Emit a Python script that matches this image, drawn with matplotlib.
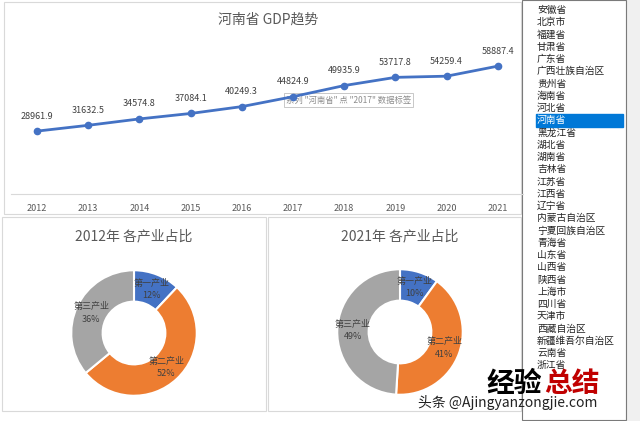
import matplotlib
matplotlib.use('Agg')
import matplotlib.pyplot as plt
import numpy as np
from matplotlib.patches import Rectangle

plt.rcParams['font.family'] = ['Noto Sans CJK SC', 'DejaVu Sans']

W, H = 640, 421

# data
years = ['2012', '2013', '2014', '2015', '2016', '2017', '2018', '2019', '2020', '2021']
gdp = [28961.9, 31632.5, 34574.8, 37084.1, 40249.3, 44824.9, 49935.9, 53717.8, 54259.4, 58887.4]
industries = ['第一产业', '第二产业', '第三产业']
share_2012 = [12, 52, 36]
share_2021 = [10, 41, 49]
# 重庆市 sits under the watermark, left out
provinces = ['安徽省', '北京市', '福建省', '甘肃省', '广东省', '广西壮族自治区', '贵州省', '海南省',
             '河北省', '河南省', '黑龙江省', '湖北省', '湖南省', '吉林省', '江苏省', '江西省', '辽宁省',
             '内蒙古自治区', '宁夏回族自治区', '青海省', '山东省', '山西省', '陕西省', '上海市', '四川省',
             '天津市', '西藏自治区', '新疆维吾尔自治区', '云南省', '浙江省']
selected = '河南省'

colors = ['#4472C4', '#ED7D31', '#A5A5A5']
textc = '#595959'


def rect(x, y, w, h):
    # pixel box (top-left origin) -> figure fraction
    return [x / W, 1 - (y + h) / H, w / W, h / H]


fig = plt.figure(figsize=(6.4, 4.21), dpi=100)

# background layer in pixel coordinates
bg = fig.add_axes([0, 0, 1, 1])
bg.set_xlim(0, W)
bg.set_ylim(H, 0)
bg.axis('off')
for x0, y0, w, h in [(4, 2, 517, 212), (2, 217, 264, 194), (268, 217, 253, 194)]:
    bg.add_patch(Rectangle((x0, y0), w, h, fill=False, ec='#d9d9d9', lw=0.8))
# list box
bg.add_patch(Rectangle((626, 0), 14, H, color='#f0f0f0'))
bg.add_patch(Rectangle((522, 0), 104, H - 1, fill=False, ec='#7a7a7a', lw=0.8))
for i, p in enumerate(provinces):
    y = 10 + i * 12.25
    if p == selected:
        bg.add_patch(Rectangle((536, y - 6), 87, 12.5, color='#0078D7'))
        bg.text(537, y, p, fontsize=7, color='white', va='center')
    else:
        bg.text(537, y, p, fontsize=7, color='#222222', va='center')

# line chart
ax = fig.add_axes(rect(11.4, 42, 512, 152))
x = list(range(len(years)))
ax.plot(x, gdp, color='#4472C4', lw=2, marker='o', ms=4.5, zorder=3)
for xi, v in zip(x, gdp):
    ax.annotate(f'{v:.1f}', (xi, v), xytext=(0, 9), textcoords='offset points',
                ha='center', fontsize=6.5, color='#404040')
ax.set_xlim(-0.5, len(years) - 0.5)
ax.set_ylim(0, 70000)
ax.set_xticks(x)
ax.set_xticklabels(years, fontsize=6.5, color=textc)
ax.tick_params(axis='x', length=0, pad=7)
ax.set_yticks([])
for s in ['left', 'right', 'top']:
    ax.spines[s].set_visible(False)
ax.spines['bottom'].set_color('#d9d9d9')
ax.patch.set_alpha(0)

bg.text(268, 20, '河南省 GDP趋势', fontsize=10, color=textc, ha='center', va='center')
# tooltip
bg.text(286, 100, '系列 "河南省" 点 "2017" 数据标签', fontsize=6, color='#8c8c8c', va='center',
        bbox=dict(boxstyle='square,pad=0.25', fc='white', ec='#bfbfbf', lw=0.6), zorder=5)


def donut(cx, cy, vals, title):
    a = fig.add_axes(rect(cx - 64, cy - 64, 128, 128))
    a.pie(vals, colors=colors, startangle=90, counterclock=False, radius=1,
          wedgeprops=dict(width=0.5, edgecolor='white', linewidth=1.5))
    total = sum(vals)
    start = 90
    for name, v in zip(industries, vals):
        mid = np.deg2rad(start - v / total * 360 / 2)
        start -= v / total * 360
        a.text(0.75 * np.cos(mid), 0.75 * np.sin(mid), f'{name}\n{v}%', ha='center', va='center',
               fontsize=6.5, color='#404040', linespacing=1.5)
    a.set_xlim(-1.02, 1.02)
    a.set_ylim(-1.02, 1.02)
    bg.text(cx, 236, title, fontsize=10, color=textc, ha='center', va='center')


donut(134, 333, share_2012, '2012年 各产业占比')
donut(400, 332, share_2021, '2021年 各产业占比')

# watermark
bg.text(486, 384, '经验', fontsize=20, fontweight='bold', color='black', va='center')
bg.text(544, 384, '总结', fontsize=20, fontweight='bold', color='#c00000', va='center')
bg.text(418, 403, '头条 @Ajingyanzongjie.com', fontsize=10, color='#222222', va='center')

fig.savefig('out.png', dpi=100)
